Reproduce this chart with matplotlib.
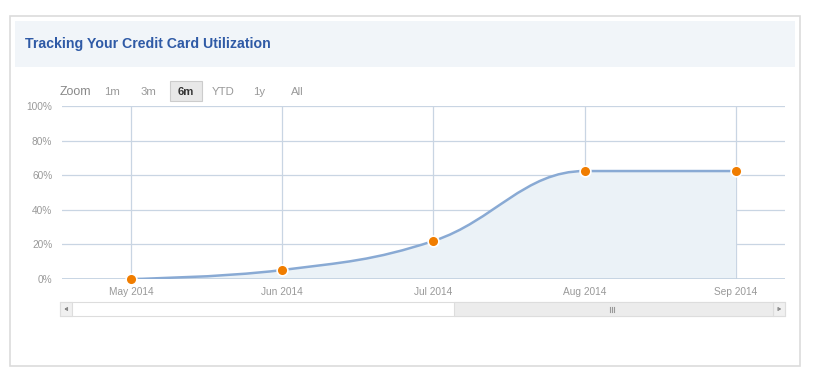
import numpy as np
import matplotlib
matplotlib.use("Agg")
import matplotlib.pyplot as plt
from matplotlib.patches import Rectangle
from matplotlib.path import Path
from matplotlib.patches import PathPatch

plt.rcParams['font.family'] = ['Liberation Sans', 'DejaVu Sans']

# ---- data ----
months = ["May 2014", "Jun 2014", "Jul 2014", "Aug 2014", "Sep 2014"]
utilization = [0.0, 5.2, 22.0, 62.4, 62.4]
y_ticks = [0, 20, 40, 60, 80, 100]
zoom_buttons = ["1m", "3m", "6m", "YTD", "1y", "All"]
selected_button = "6m"

W, H = 814, 380
fig = plt.figure(figsize=(W / 100, H / 100), dpi=100)

# background layer in pixel coords
bg = fig.add_axes([0, 0, 1, 1])
bg.set_xlim(0, W)
bg.set_ylim(H, 0)
bg.axis("off")

# card with soft border
bg.add_patch(Rectangle((10, 16), 790, 350, facecolor="white", edgecolor="#dcdcdc", lw=1.2))
# header band
bg.add_patch(Rectangle((15, 21), 780, 46, facecolor="#f1f5f9", edgecolor="none"))
bg.text(25, 44, "Tracking Your Credit Card Utilization", fontsize=10.2, fontweight="bold",
        color="#2f5aa6", va="center", ha="left")

# zoom buttons
bg.text(60, 92, "Zoom", fontsize=8.9, color="#888888", va="center", ha="left")
btn_x = [112, 148, 186, 223, 259, 297]
for lab, bx in zip(zoom_buttons, btn_x):
    if lab == selected_button:
        bg.add_patch(Rectangle((bx - 16, 81), 32, 20, facecolor="#e8e8e8", edgecolor="#cccccc", lw=0.8))
        bg.text(bx, 92, lab, fontsize=8.2, color="#333333", fontweight="bold", va="center", ha="center")
    else:
        bg.text(bx, 92, lab, fontsize=8.2, color="#999999", va="center", ha="center")

# scrollbar
bg.add_patch(Rectangle((60, 302), 725, 14, facecolor="white", edgecolor="#dddddd", lw=0.8))
bg.add_patch(Rectangle((60, 302), 12, 14, facecolor="#f0f0f0", edgecolor="#dddddd", lw=0.8))
bg.add_patch(Rectangle((773, 302), 12, 14, facecolor="#f0f0f0", edgecolor="#dddddd", lw=0.8))
bg.add_patch(Rectangle((454, 302), 319, 14, facecolor="#ececec", edgecolor="#dddddd", lw=0.8))
for gx in (609.5, 611.5, 613.5):
    bg.plot([gx, gx], [307, 312], color="#999999", lw=0.8)
bg.plot([65.5, 67.5, 67.5, 65.5], [309, 307.5, 310.5, 309], color="#888888", lw=0.8)
bg.plot([780, 778, 778, 780], [309, 307.5, 310.5, 309], color="#888888", lw=0.8)

# ---- chart ----
L, R, T, B = 62, 785, 106, 279
ax = fig.add_axes([L / W, 1 - B / H, (R - L) / W, (B - T) / H])
ax.set_facecolor("none")

x = np.arange(len(months), dtype=float)
y = np.array(utilization)


def spline_path(xs, ys, smoothing=1.5):
    # Highcharts-style spline control points
    n = len(xs)
    lc = [None] * n
    rc = [None] * n
    denom = smoothing + 1
    for i in range(1, n - 1):
        px, py = xs[i], ys[i]
        lx, ly = xs[i - 1], ys[i - 1]
        nx, ny = xs[i + 1], ys[i + 1]
        lcx = (smoothing * px + lx) / denom
        lcy = (smoothing * py + ly) / denom
        rcx = (smoothing * px + nx) / denom
        rcy = (smoothing * py + ny) / denom
        if rcx != lcx:
            corr = ((rcy - lcy) * (rcx - px)) / (rcx - lcx) + py - rcy
            lcy += corr
            rcy += corr
        if lcy > ly and lcy > py:
            lcy = max(ly, py)
            rcy = 2 * py - lcy
        elif lcy < ly and lcy < py:
            lcy = min(ly, py)
            rcy = 2 * py - lcy
        if rcy > ny and rcy > py:
            rcy = max(ny, py)
            lcy = 2 * py - rcy
        elif rcy < ny and rcy < py:
            rcy = min(ny, py)
            lcy = 2 * py - rcy
        lc[i] = (lcx, lcy)
        rc[i] = (rcx, rcy)
    verts = [(xs[0], ys[0])]
    codes = [Path.MOVETO]
    for i in range(1, n):
        c1 = rc[i - 1] if rc[i - 1] is not None else (xs[i - 1], ys[i - 1])
        c2 = lc[i] if lc[i] is not None else (xs[i], ys[i])
        verts += [c1, c2, (xs[i], ys[i])]
        codes += [Path.CURVE4] * 3
    return verts, codes


verts, codes = spline_path(x, y)
fill_verts = verts + [(x[-1], 0), (x[0], 0), (x[0], y[0])]
fill_codes = codes + [Path.LINETO, Path.LINETO, Path.CLOSEPOLY]
ax.add_patch(PathPatch(Path(fill_verts, fill_codes), facecolor="#ebf2f7", edgecolor="none", zorder=1))
ax.add_patch(PathPatch(Path(verts, codes), facecolor="none", edgecolor="#89aad4", lw=1.8, zorder=3))
ax.scatter(x, y, s=60, color="#f07d00", edgecolor="white", linewidth=1.2, zorder=4, clip_on=False)

ax.set_xlim(-0.456, 4.324)
ax.set_ylim(0, 100)
ax.set_xticks(x)
ax.set_xticklabels(months)
ax.set_yticks(y_ticks)
ax.set_yticklabels([f"{t}%" for t in y_ticks])
ax.tick_params(length=0, colors="#999999", labelsize=7.3)
ax.tick_params(axis="x", pad=6)
ax.tick_params(axis="y", pad=7)
ax.grid(True, color="#c9d5e3", lw=0.9, zorder=0)
ax.set_axisbelow(True)
for s in ax.spines.values():
    s.set_visible(False)
ax.axhline(0, color="#c0d0e0", lw=1.2, zorder=2)

fig.savefig("out.png", dpi=100)
